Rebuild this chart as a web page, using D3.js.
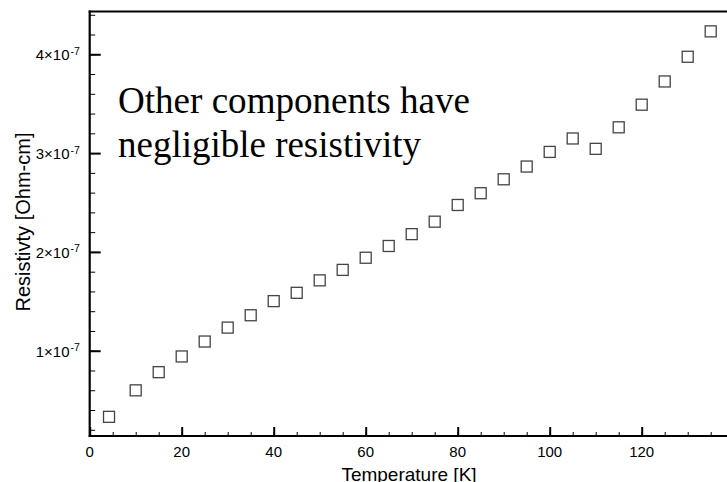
<!DOCTYPE html>
<html>
<head>
<meta charset="utf-8">
<script src="https://cdn.jsdelivr.net/npm/d3@7"></script>
<style>
    body { margin: 0; background: white; }
    svg { display: block; }
    .sans { font-family: "Liberation Sans", Arial, Helvetica, sans-serif; fill: black; }
    .serif { font-family: "Liberation Serif", "Times New Roman", serif; fill: black; }
</style>
</head>
<body>
<svg id="chart" width="727" height="482"></svg>
<script>
// temperature [K]
var temps = [4.2, 10, 15, 20, 25, 30, 35, 40, 45, 50, 55, 60, 65, 70, 75, 80, 85, 90,
    95, 100, 105, 110, 115, 120, 125, 130, 135];
// resistivity, in units of 1e-7 Ohm-cm
var resist = [0.331, 0.599, 0.783, 0.942, 1.093, 1.234, 1.359, 1.502, 1.586, 1.712,
    1.818, 1.941, 2.060, 2.180, 2.306, 2.475, 2.594, 2.735, 2.864, 3.012, 3.148,
    3.043, 3.261, 3.490, 3.725, 3.975, 4.232];
var xTicks = [0, 20, 40, 60, 80, 100, 120];
var yTicks = [1, 2, 3, 4];
var noteLines = ['Other components have', 'negligible resistivity'];

var svg = d3.select('#chart');

var x = d3.scaleLinear()
    .domain([0, 140])
    .range([89.7, 733.7]);
var y = d3.scaleLinear()
    .domain([0.137e-7, 4.433e-7])
    .range([436, 11.5]);

var yBottom = y.range()[0];
var yTop = y.range()[1];

// minor ticks
svg.append('g')
    .attr('transform', 'translate(0,' + yBottom + ')')
    .call(d3.axisBottom(x).tickValues(d3.range(5, 140, 5)).tickSize(-4).tickFormat(''))
    .call(g => g.select('.domain').remove())
    .call(g => g.selectAll('line').attr('stroke', 'black').attr('stroke-width', 1));
svg.append('g')
    .attr('transform', 'translate(' + x(0) + ',0)')
    .call(d3.axisLeft(y).tickValues(d3.range(0.2e-7, 4.41e-7, 0.2e-7)).tickSize(-5.5).tickFormat(''))
    .call(g => g.select('.domain').remove())
    .call(g => g.selectAll('line').attr('stroke', 'black').attr('stroke-width', 1));

// major ticks
svg.append('g')
    .attr('transform', 'translate(0,' + yBottom + ')')
    .call(d3.axisBottom(x).tickValues(xTicks).tickSize(-9).tickFormat(''))
    .call(g => g.select('.domain').remove())
    .call(g => g.selectAll('line').attr('stroke', 'black').attr('stroke-width', 2));
svg.append('g')
    .attr('transform', 'translate(' + x(0) + ',0)')
    .call(d3.axisLeft(y).tickValues(yTicks.map(d => d * 1e-7)).tickSize(-11).tickFormat(''))
    .call(g => g.select('.domain').remove())
    .call(g => g.selectAll('line').attr('stroke', 'black').attr('stroke-width', 2));

// frame lines (left, bottom, top)
svg.append('line')
    .attr('x1', x(0)).attr('x2', x(0))
    .attr('y1', yTop - 1).attr('y2', yBottom + 1)
    .attr('stroke', 'black').attr('stroke-width', 2.2);
svg.append('line')
    .attr('x1', x(0) - 1).attr('x2', 727)
    .attr('y1', yBottom).attr('y2', yBottom)
    .attr('stroke', 'black').attr('stroke-width', 2.2);
svg.append('line')
    .attr('x1', x(0) - 1).attr('x2', 727)
    .attr('y1', yTop).attr('y2', yTop)
    .attr('stroke', 'black').attr('stroke-width', 2.2);

// x tick labels
svg.selectAll('.xlab')
    .data(xTicks)
    .enter().append('text')
    .attr('class', 'sans xlab')
    .attr('x', d => x(d))
    .attr('y', 457)
    .attr('text-anchor', 'middle')
    .style('font-size', '15px')
    .text(d => d);

// y tick labels, written as N×10^-7
var ylab = svg.selectAll('.ylab')
    .data(yTicks)
    .enter().append('g')
    .attr('class', 'ylab');
ylab.append('text')
    .attr('class', 'sans')
    .attr('x', 69.5)
    .attr('y', d => y(d * 1e-7) + 6)
    .attr('text-anchor', 'end')
    .style('font-size', '15px')
    .text(d => d + '\u00d710');
ylab.append('text')
    .attr('class', 'sans')
    .attr('x', 70.5)
    .attr('y', d => y(d * 1e-7) + 0.5)
    .style('font-size', '10.5px')
    .text('-7');

// axis titles
svg.append('text')
    .attr('class', 'sans')
    .attr('transform', 'translate(30,222) rotate(-90)')
    .attr('text-anchor', 'middle')
    .style('font-size', '20px')
    .text('Resistivty [Ohm-cm]');
svg.append('text')
    .attr('class', 'sans')
    .attr('x', 409)
    .attr('y', 481)
    .attr('text-anchor', 'middle')
    .style('font-size', '19px')
    .text('Temperature [K]');

// annotation
svg.selectAll('.note')
    .data(noteLines)
    .enter().append('text')
    .attr('class', 'serif note')
    .attr('x', 118)
    .attr('y', (d, i) => 113 + i * 43.5)
    .attr('textLength', (d, i) => i == 0 ? 352 : 303)
    .attr('lengthAdjust', 'spacingAndGlyphs')
    .style('font-size', '37px')
    .text(d => d);

// data squares
var side = 11;
svg.selectAll('.pt')
    .data(temps.map((t, i) => ({ t: t, r: resist[i] * 1e-7 })))
    .enter().append('rect')
    .attr('class', 'pt')
    .attr('x', d => x(d.t) - side / 2)
    .attr('y', d => y(d.r) - side / 2)
    .attr('width', side)
    .attr('height', side)
    .attr('fill', 'none')
    .attr('stroke', '#444')
    .attr('stroke-width', 1.3);
</script>
</body>
</html>
